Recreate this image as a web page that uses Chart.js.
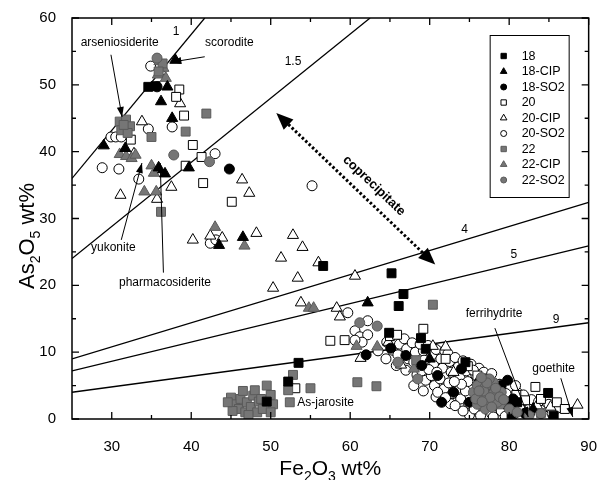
<!DOCTYPE html>
<html>
<head>
<meta charset="utf-8">
<script src="https://cdn.jsdelivr.net/npm/chart.js@4.4.1/dist/chart.umd.min.js"></script>
<style>
  html, body { margin: 0; padding: 0; background: #fff; }
</style>
</head>
<body>
<canvas id="fe-as-plot" width="608" height="480"></canvas>
<script>
// axis ticks
const xTicks = [30, 40, 50, 60, 70, 80, 90];
const yTicks = [0, 10, 20, 30, 40, 50, 60];
const xMinor = [35, 45, 55, 65, 75, 85];
const yMinor = [5, 15, 25, 35, 45, 55];

// [Fe2O3 wt%, As2O5 wt%] pairs
const s18 = [[34.6,49.7],[35.5,49.8],[56.6,22.9],[65.2,21.8],[66.7,18.7],[66.1,16.9],[68.9,12.1],[64.9,12.9],
  [53.5,8.4],[52.2,5.6],[49.5,2.6],[84.9,3.9],[85.6,0.5],[74.5,8.5],[78.2,4.2],[81.0,2.5],[69.5,10.5],[80.3,0.4]];
const s18CIP = [[38.0,53.7],[37.0,49.7],[36.2,47.5],[37.6,45.0],[29.0,40.9],[31.7,40.5],[35.9,37.6],[36.7,36.7],
  [39.7,37.6],[43.5,26.0],[46.5,27.2],[62.2,17.4],[70.0,9.0],[76.0,5.5],[80.0,2.0],[83.0,1.5]];
const s18SO2 = [[35.7,49.7],[44.8,37.4],[62.0,9.6],[65.1,10.6],[67.0,9.5],[69.0,8.0],[71.0,6.5],[73.0,4.0],
  [75.0,2.5],[77.0,6.0],[79.0,5.0],[80.5,3.0],[82.0,0.8],[74.0,7.5],[71.5,2.5],[79.8,5.8]];
const s20 = [[38.5,49.3],[38.1,48.2],[39.1,45.4],[40.2,41.0],[32.4,41.8],[39.3,37.9],[41.3,39.2],[41.5,35.3],
  [45.1,32.5],[57.5,11.7],[59.3,11.8],[65.0,12.4],[65.9,12.6],[69.2,13.5],[53.1,4.6],[83.3,4.8],[84.0,3.0],
  [86.0,2.5],[87.0,1.5],[82.0,2.8],[76.0,6.5],[78.5,5.2],[72.0,9.0],[74.8,7.9],[80.9,3.6]];
const s20CIP = [[36.2,52.0],[38.6,47.2],[33.8,44.5],[32.8,39.7],[31.1,33.5],[35.7,32.9],[37.5,34.7],[46.4,35.8],
  [47.3,33.8],[40.2,26.8],[42.4,27.4],[43.9,27.1],[48.2,27.8],[52.8,27.5],[54.0,25.7],[51.3,24.1],[56.0,23.4],
  [53.4,21.1],[50.3,19.6],[60.6,21.4],[53.8,17.4],[58.3,16.6],[58.7,15.3],[61.3,9.1],[64.8,11.5],[70.4,10.9],
  [72.0,10.8],[66.4,8.1],[73.0,7.0],[77.0,4.5],[80.5,2.5],[83.5,2.0],[88.6,2.1],[75.5,3.0],[85.2,1.8]];
const s20SO2 = [[34.9,52.8],[37.6,43.7],[34.6,43.4],[29.9,42.2],[30.5,42.2],[31.2,42.2],[28.8,37.6],[30.9,37.4],
  [33.4,35.9],[43.0,39.7],[55.2,34.9],[42.4,26.3],[43.1,26.8],[59.7,15.9],[62.2,14.7],[60.6,13.2],[61.2,12.3],
  [62.2,12.6],[61.5,11.5],[60.6,11.8],
  [63.5,10.2],[64.6,11.5],[65.3,10.3],[64.5,9.0],[66.2,11.2],[66.0,9.6],[65.8,8.0],[67.1,10.5],[67.3,9.0],
  [67.0,7.3],[68.2,10.0],[68.0,8.5],[68.4,6.6],[68.0,5.0],
  [69.2,10.2],[69.3,8.8],[69.0,7.2],[69.5,5.8],[69.2,4.2],[70.3,9.6],[70.5,8.0],[70.2,6.5],[70.6,5.0],
  [70.8,3.3],[71.4,9.0],[71.6,7.6],[71.3,6.0],[71.8,4.5],[72.5,8.6],[72.7,7.0],[72.4,5.4],[72.9,3.8],
  [72.6,2.3],[73.6,7.8],[73.8,6.2],[73.5,4.6],[73.9,3.0],[74.6,7.2],[74.8,5.6],[74.5,4.2],[74.9,2.3],
  [75.0,0.6],[74.2,1.2],
  [75.8,6.6],[75.6,1.5],[76.4,0.5],[77.0,6.2],[77.8,0.8],[78.8,5.2],[79.0,1.2],[79.6,3.8],[80.2,2.4],
  [80.5,0.6],[81.0,4.0],[81.4,1.8],[82.0,2.8],[82.6,0.9],[83.2,2.0],[84.0,1.3],[85.0,2.2],[86.0,1.6],[84.6,0.4],
  [66.8,12.0],[67.8,11.4],[68.8,11.2],[69.8,11.0],[70.8,10.4],[71.9,10.2],[72.3,9.8],[73.2,9.2],[74.2,8.7],
  [75.2,8.2],[76.2,7.6],[69.9,7.4],[70.9,7.0],[71.0,4.0],[72.0,3.2],[73.2,2.0],[74.0,5.2],[73.1,5.6],
  [75.5,7.3],[76.8,7.0],[77.8,6.8],[78.0,0.3],[79.5,0.4],[81.8,3.6],[82.8,2.9],[83.7,2.6],[80.8,5.0],[85.4,0.8]];
const s22 = [[41.9,45.7],[39.3,43.0],[35.0,42.2],[31.0,44.5],[31.8,44.8],[32.3,43.8],[31.2,43.2],[32.0,42.8],
  [31.5,44.0],[36.2,31.0],[70.4,17.1],[52.8,6.6],[52.2,4.3],[55.0,4.6],[52.4,2.5],[60.9,5.5],[63.3,4.9],
  [36.4,53.2],[35.9,52.0],
  [45.0,3.2],[45.5,2.2],[46.0,1.5],[46.2,3.0],[46.8,1.0],[47.0,2.5],[47.5,1.8],[47.8,3.5],[48.3,1.0],
  [48.5,2.6],[49.0,1.5],[45.2,1.2],[46.5,4.2],[48.0,4.3],[49.5,5.0],[50.0,3.6],[50.3,2.2],[50.0,1.0],
  [44.6,2.5],[47.2,0.6],[48.8,3.0],[68.3,8.8],[84.0,0.9]];
const s22CIP = [[36.0,53.5],[36.5,52.5],[35.8,51.5],[36.8,51.0],[31.0,39.6],[31.8,39.3],[32.5,39.0],[33.0,39.5],
  [34.1,34.0],[35.6,34.0],[35.0,37.9],[35.3,36.8],[43.0,28.7],[46.7,25.9],[54.8,16.6],[55.4,16.6],[60.8,10.9],
  [63.4,10.8],[68.0,7.5],[76.5,3.0],[79.0,2.0]];
const s22SO2 = [[35.7,54.0],[37.8,39.5],[42.3,38.5],[61.2,14.4],[63.4,13.9],[66.0,8.5],[68.5,6.0],
  [75.5,4.0],[76.0,5.0],[76.5,3.5],[77.0,4.8],[77.5,2.5],[77.0,1.5],[78.0,3.8],[78.5,2.5],[76.0,2.2],
  [78.0,5.5],[79.0,4.0],[77.5,6.0],[80.0,1.5],[81.0,1.0],[82.5,0.5],[84.0,0.8],[76.8,4.2],[77.6,3.2],
  [75.8,3.0],[76.2,4.2],[77.2,5.4],[78.3,4.6],[78.8,3.3],[77.8,1.8],[76.6,2.6],[79.3,2.9],[76.5,6.2]];

// Fe/As molar ratio lines: label, start point, end point
const ratioNames = ['1', '1.5', '4', '5', '9'];
const ratioStarts = [[25, 36.0], [25, 24.0], [25, 9.0], [25, 7.2], [25, 4.0]];
const ratioEnds = [[41.7, 60], [62.5, 60], [90, 32.4], [90, 25.9], [90, 14.4]];
const ratioLabelAt = [[38.1, 57.9], [52.8, 53.4], [74.4, 28.3], [80.6, 24.6], [85.9, 14.8]];

// mineral labels: text, label position, arrow from, arrow to
const minerals = [
  ['arseniosiderite', [31.0, 56.3], [29.9, 54.5], [31.3, 45.2]],
  ['scorodite', [44.8, 56.3], [41.7, 54.2], [37.5, 53.4]],
  ['yukonite', [30.2, 25.6], [31.2, 26.8], [33.8, 38.3]],
  ['pharmacosiderite', [36.7, 20.4], [36.5, 21.9], [36.1, 38.3]],
  ['ferrihydrite', [78.1, 15.7], [78.2, 13.6], [82.4, 0.3]],
  ['goethite', [85.6, 7.6], [86.5, 6.1], [88.0, 0.3]],
  ['As-jarosite', [56.9, 2.5], null, null]
];
const coprecipFrom = [50.7, 45.8];
const coprecipTo = [70.7, 23.1];

const FONT = '"Liberation Sans", Arial, sans-serif';
const BLACK = '#000';
const WHITE = '#fff';
const GRAY = '#767676';
const GRAY_EDGE = '#5a5a5a';

const seriesStyles = [
  { label: '18', data: s18, shape: 'rect', fill: BLACK, edge: BLACK, order: 3 },
  { label: '18-CIP', data: s18CIP, shape: 'triangle', fill: BLACK, edge: BLACK, order: 3 },
  { label: '18-SO2', data: s18SO2, shape: 'circle', fill: BLACK, edge: BLACK, order: 3 },
  { label: '20', data: s20, shape: 'rect', fill: WHITE, edge: BLACK, order: 5 },
  { label: '20-CIP', data: s20CIP, shape: 'triangle', fill: WHITE, edge: BLACK, order: 5 },
  { label: '20-SO2', data: s20SO2, shape: 'circle', fill: WHITE, edge: BLACK, order: 6 },
  { label: '22', data: s22, shape: 'rect', fill: GRAY, edge: GRAY_EDGE, order: 4 },
  { label: '22-CIP', data: s22CIP, shape: 'triangle', fill: GRAY, edge: GRAY_EDGE, order: 4 },
  { label: '22-SO2', data: s22SO2, shape: 'circle', fill: GRAY, edge: GRAY_EDGE, order: 2 }
];
const radiusFor = { rect: 6.3, triangle: 6.4, circle: 5.0 };

const datasets = seriesStyles.map(s => ({
  type: 'scatter',
  label: s.label,
  data: s.data.map(p => ({ x: p[0], y: p[1] })),
  pointStyle: s.shape,
  pointRadius: radiusFor[s.shape],
  pointBackgroundColor: s.fill,
  pointBorderColor: s.edge,
  pointBorderWidth: 1,
  order: s.order
}));

ratioNames.forEach((name, i) => {
  datasets.push({
    type: 'line',
    label: 'ratio ' + name,
    data: [{ x: ratioStarts[i][0], y: ratioStarts[i][1] }, { x: ratioEnds[i][0], y: ratioEnds[i][1] }],
    borderColor: BLACK,
    borderWidth: 1.3,
    pointRadius: 0,
    fill: false,
    order: 10
  });
});

function marker(ctx, shape, x, y, r, fill, edge) {
  ctx.save();
  ctx.fillStyle = fill;
  ctx.strokeStyle = edge;
  ctx.lineWidth = 1;
  ctx.beginPath();
  if (shape === 'rect') {
    const h = r * Math.SQRT1_2;
    ctx.rect(x - h, y - h, 2 * h, 2 * h);
  } else if (shape === 'triangle') {
    for (let k = 0; k < 3; k++) {
      const a = k * 2 * Math.PI / 3;
      const px = x + Math.sin(a) * r, py = y - Math.cos(a) * r;
      if (k === 0) ctx.moveTo(px, py); else ctx.lineTo(px, py);
    }
    ctx.closePath();
  } else {
    ctx.arc(x, y, r, 0, Math.PI * 2);
  }
  ctx.fill();
  ctx.stroke();
  ctx.restore();
}

function arrow(ctx, x1, y1, x2, y2, len, half) {
  const a = Math.atan2(y2 - y1, x2 - x1);
  ctx.beginPath();
  ctx.moveTo(x2, y2);
  ctx.lineTo(x2 - len * Math.cos(a) + half * Math.sin(a), y2 - len * Math.sin(a) - half * Math.cos(a));
  ctx.lineTo(x2 - len * Math.cos(a) - half * Math.sin(a), y2 - len * Math.sin(a) + half * Math.cos(a));
  ctx.closePath();
  ctx.fill();
}

// text pieces [text, isSubscript], drawn centred on x
function subText(ctx, parts, x, y, size, subSize) {
  let total = 0;
  parts.forEach(p => {
    ctx.font = (p[1] ? subSize : size) + 'px ' + FONT;
    total += ctx.measureText(p[0]).width;
  });
  let cx = x - total / 2;
  ctx.textAlign = 'left';
  ctx.textBaseline = 'alphabetic';
  parts.forEach(p => {
    ctx.font = (p[1] ? subSize : size) + 'px ' + FONT;
    ctx.fillText(p[0], cx, y + (p[1] ? size * 0.28 : 0));
    cx += ctx.measureText(p[0]).width;
  });
}

const decorPlugin = {
  id: 'decor',
  afterDraw(chart) {
    const ctx = chart.ctx;
    const xs = chart.scales.x, ys = chart.scales.y;
    const a = chart.chartArea;
    const X = v => xs.getPixelForValue(v);
    const Y = v => ys.getPixelForValue(v);
    ctx.save();
    ctx.fillStyle = BLACK;
    ctx.strokeStyle = BLACK;

    // frame and inward ticks
    ctx.lineWidth = 1.5;
    ctx.strokeRect(a.left, a.top, a.right - a.left, a.bottom - a.top);
    ctx.lineWidth = 1.3;
    ctx.beginPath();
    const tickX = (v, len) => {
      ctx.moveTo(X(v), a.bottom); ctx.lineTo(X(v), a.bottom - len);
      ctx.moveTo(X(v), a.top); ctx.lineTo(X(v), a.top + len);
    };
    const tickY = (v, len) => {
      ctx.moveTo(a.left, Y(v)); ctx.lineTo(a.left + len, Y(v));
      ctx.moveTo(a.right, Y(v)); ctx.lineTo(a.right - len, Y(v));
    };
    xTicks.forEach(v => tickX(v, 7));
    xMinor.forEach(v => tickX(v, 4));
    yTicks.forEach(v => tickY(v, 7));
    yMinor.forEach(v => tickY(v, 4));
    ctx.stroke();

    // ratio line labels
    ctx.font = '12px ' + FONT;
    ctx.textAlign = 'center';
    ctx.textBaseline = 'middle';
    ratioNames.forEach((n, i) => ctx.fillText(n, X(ratioLabelAt[i][0]), Y(ratioLabelAt[i][1])));

    // mineral labels and arrows
    ctx.lineWidth = 1;
    minerals.forEach(m => {
      ctx.font = '12px ' + FONT;
      ctx.textAlign = 'center';
      ctx.textBaseline = 'middle';
      ctx.fillText(m[0], X(m[1][0]), Y(m[1][1]));
      if (m[2]) {
        const x1 = X(m[2][0]), y1 = Y(m[2][1]), x2 = X(m[3][0]), y2 = Y(m[3][1]);
        ctx.beginPath();
        ctx.moveTo(x1, y1);
        ctx.lineTo(x2, y2);
        ctx.stroke();
        arrow(ctx, x1, y1, x2, y2, 10, 3.5);
      }
    });

    // coprecipitate double arrow
    const cx1 = X(coprecipFrom[0]), cy1 = Y(coprecipFrom[1]);
    const cx2 = X(coprecipTo[0]), cy2 = Y(coprecipTo[1]);
    const ang = Math.atan2(cy2 - cy1, cx2 - cx1);
    ctx.save();
    ctx.lineWidth = 3;
    ctx.setLineDash([2.5, 2.2]);
    ctx.beginPath();
    ctx.moveTo(cx1 + 12 * Math.cos(ang), cy1 + 12 * Math.sin(ang));
    ctx.lineTo(cx2 - 12 * Math.cos(ang), cy2 - 12 * Math.sin(ang));
    ctx.stroke();
    ctx.restore();
    arrow(ctx, cx2 - 20 * Math.cos(ang), cy2 - 20 * Math.sin(ang), cx2, cy2, 17, 7);
    arrow(ctx, cx1 + 20 * Math.cos(ang), cy1 + 20 * Math.sin(ang), cx1, cy1, 17, 7);
    ctx.save();
    ctx.translate(X(63.0), Y(34.9));
    ctx.rotate(ang);
    ctx.font = 'bold 13px ' + FONT;
    ctx.textAlign = 'center';
    ctx.textBaseline = 'middle';
    ctx.fillText('coprecipitate', 0, 0);
    ctx.restore();

    // legend box
    const bx = a.right - 99, by = a.top + 17;
    ctx.lineWidth = 1;
    ctx.strokeRect(bx + 0.5, by + 0.5, 79, 162);
    ctx.font = '12.5px ' + FONT;
    ctx.textAlign = 'left';
    ctx.textBaseline = 'middle';
    seriesStyles.forEach((s, i) => {
      const ly = by + 21 + i * 15.5;
      marker(ctx, s.shape, bx + 14, ly, s.shape === 'circle' ? 3 : 3.8, s.fill, s.edge);
      ctx.fillStyle = BLACK;
      ctx.fillText(s.label, bx + 32, ly + 0.5);
    });

    // axis titles with subscripts
    subText(ctx, [['Fe', false], ['2', true], ['O', false], ['3', true], [' wt%', false]], (a.left + a.right) / 2, 475, 21, 14);
    ctx.save();
    ctx.translate(34, 236);
    ctx.rotate(-Math.PI / 2);
    subText(ctx, [['As', false], ['2', true], ['O', false], ['5', true], [' wt%', false]], 0, 0, 22, 14);
    ctx.restore();

    ctx.restore();
  }
};

new Chart(document.getElementById('fe-as-plot'), {
  data: { datasets: datasets },
  options: {
    responsive: false,
    animation: false,
    events: [],
    layout: { padding: { top: 18, right: 11, left: 0, bottom: 0 } },
    plugins: {
      legend: { display: false },
      tooltip: { enabled: false },
      title: { display: false }
    },
    scales: {
      x: {
        type: 'linear',
        min: 25,
        max: 90,
        grid: { display: false },
        border: { display: false },
        ticks: { color: BLACK, font: { family: FONT, size: 15 }, padding: 11, maxRotation: 0 },
        afterBuildTicks: s => { s.ticks = xTicks.map(v => ({ value: v })); },
        afterFit: s => { s.height = 61; }
      },
      y: {
        type: 'linear',
        min: 0,
        max: 60,
        grid: { display: false },
        border: { display: false },
        ticks: { color: BLACK, font: { family: FONT, size: 15 }, padding: 8 },
        afterBuildTicks: s => { s.ticks = yTicks.map(v => ({ value: v })); },
        afterFit: s => { s.width = 72; }
      }
    }
  },
  plugins: [decorPlugin]
});
</script>
</body>
</html>
